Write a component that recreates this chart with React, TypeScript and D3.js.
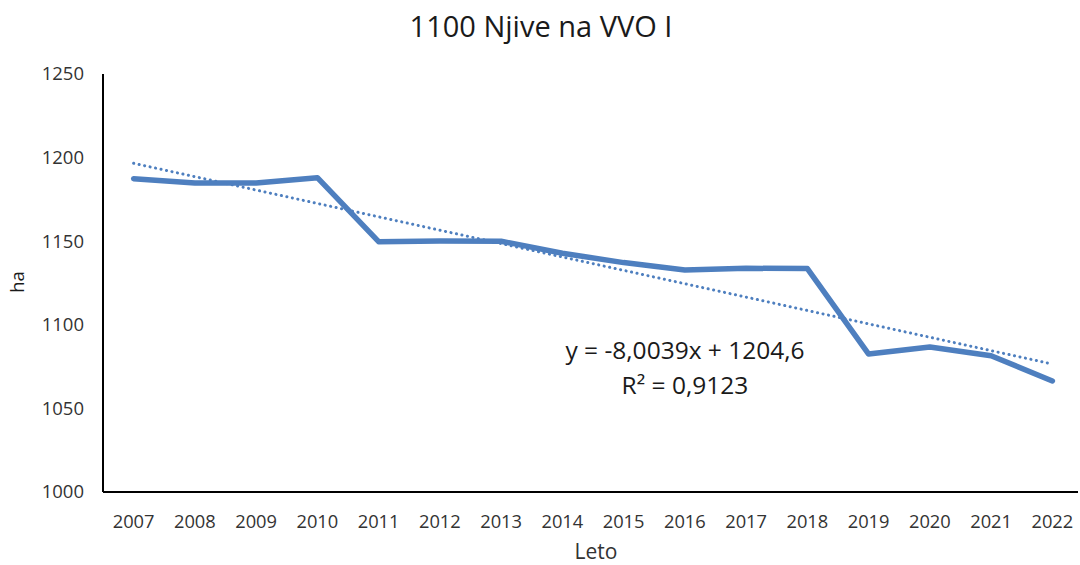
import React from "react";
import * as d3 from "d3";

const years = ["2007","2008","2009","2010","2011","2012","2013","2014","2015","2016","2017","2018","2019","2020","2021","2022"];
const values = [1187.4,1184.8,1184.8,1188.0,1149.7,1150.1,1150.0,1142.8,1137.2,1132.8,1133.8,1133.6,1082.5,1086.7,1081.5,1066.4];
const yTicks = [1000,1050,1100,1150,1200,1250];
const trendSlope = -8.0039;
const trendIntercept = 1204.6;
const title = "1100 Njive na VVO I";
const xTitle = "Leto";
const yTitle = "ha";
const eqText = "y = -8,0039x + 1204,6";
const r2Text = "R² = 0,9123";

const W = 1080, H = 565;
const M = { left: 103, right: 1083, top: 74, bottom: 492 };
const FONT = "'Open Sans', 'Noto Sans', sans-serif";
const BLUE = "#4e7fbf";

export default function App() {
  const x = d3.scaleBand<string>().domain(years).range([M.left, M.right]).padding(0);
  const cx = (y: string) => (x(y) as number) + x.bandwidth() / 2;
  const y = d3.scaleLinear().domain([1000, 1250]).range([M.bottom, M.top]);
  const line = d3.line<number>().x((_, i) => cx(years[i])).y((v) => y(v));
  const trend = years.map((_, i) => trendIntercept + trendSlope * (i + 1));
  return (
    <svg width={W} height={H} style={{ position: "absolute", left: 0, top: 0, background: "#fff" }} fontFamily={FONT}>
      <rect width={W} height={H} fill="#fff" />
      <text x={541} y={37} textAnchor="middle" fontSize={29} fill="#1a1a1a">{title}</text>
      {yTicks.map((t) => (
        <text key={t} x={84} y={y(t)} dy="0.35em" textAnchor="end" fontSize={18.5} fill="#333">{t}</text>
      ))}
      {years.map((yr) => (
        <text key={yr} x={cx(yr)} y={528} textAnchor="middle" fontSize={18.3} fill="#333">{yr}</text>
      ))}
      <line x1={M.left} x2={M.left} y1={M.top} y2={M.bottom} stroke="#000" strokeWidth={2} />
      <line x1={M.left} x2={1078} y1={M.bottom} y2={M.bottom} stroke="#000" strokeWidth={2} />
      <path d={line(trend) || ""} fill="none" stroke={BLUE} strokeWidth={3} strokeDasharray="0.1 5.5" strokeLinecap="round" />
      <path d={line(values) || ""} fill="none" stroke={BLUE} strokeWidth={5.5} strokeLinejoin="round" strokeLinecap="round" />
      <text x={685} y={359} textAnchor="middle" fontSize={24.5} fill="#1a1a1a">{eqText}</text>
      <text x={685} y={394} textAnchor="middle" fontSize={24.5} fill="#1a1a1a">{r2Text}</text>
      <text x={596} y={559} textAnchor="middle" fontSize={21} fill="#333">{xTitle}</text>
      <text transform="translate(24,282) rotate(-90)" textAnchor="middle" fontSize={18.5} fill="#1a1a1a">{yTitle}</text>
    </svg>
  );
}
